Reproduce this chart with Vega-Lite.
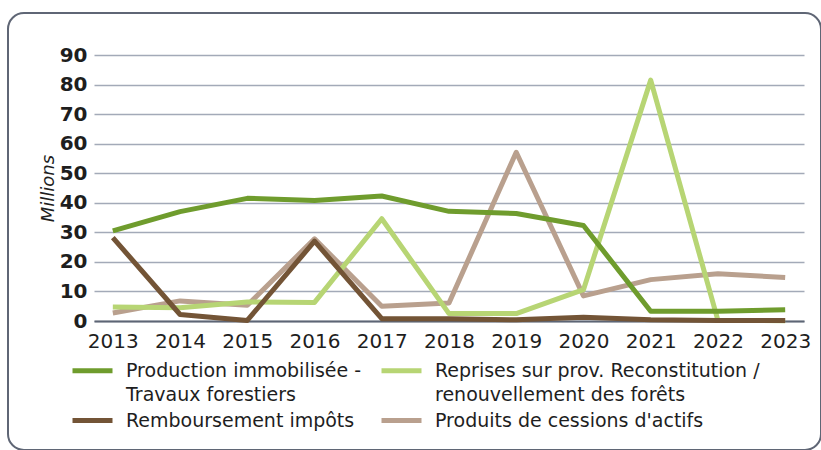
{
  "$schema": "https://vega.github.io/schema/vega-lite/v6.json",
  "width": 813,
  "height": 437,
  "autosize": {"type": "none"},
  "padding": {"left": 8, "top": 13, "right": 0, "bottom": 0},
  "background": "white",
  "config": {
    "font": "DejaVu Sans",
    "view": {"stroke": "#5f6675", "strokeWidth": 2, "cornerRadius": 16, "fill": "white"},
    "style": {"guide-label": {"lineHeight": 24}}
  },
  "data": {
    "values": [
      {"year": "2013", "series": "Produits de cessions d'actifs", "value": 2.7},
      {"year": "2014", "series": "Produits de cessions d'actifs", "value": 6.8},
      {"year": "2015", "series": "Produits de cessions d'actifs", "value": 5.3},
      {"year": "2016", "series": "Produits de cessions d'actifs", "value": 27.8},
      {"year": "2017", "series": "Produits de cessions d'actifs", "value": 5.0},
      {"year": "2018", "series": "Produits de cessions d'actifs", "value": 6.1},
      {"year": "2019", "series": "Produits de cessions d'actifs", "value": 57.1},
      {"year": "2020", "series": "Produits de cessions d'actifs", "value": 8.5},
      {"year": "2021", "series": "Produits de cessions d'actifs", "value": 14.0},
      {"year": "2022", "series": "Produits de cessions d'actifs", "value": 16.0},
      {"year": "2023", "series": "Produits de cessions d'actifs", "value": 14.7},
      {"year": "2013", "series": "Reprises sur prov. Reconstitution / renouvellement des forêts", "value": 4.7},
      {"year": "2014", "series": "Reprises sur prov. Reconstitution / renouvellement des forêts", "value": 4.5},
      {"year": "2015", "series": "Reprises sur prov. Reconstitution / renouvellement des forêts", "value": 6.4},
      {"year": "2016", "series": "Reprises sur prov. Reconstitution / renouvellement des forêts", "value": 6.3},
      {"year": "2017", "series": "Reprises sur prov. Reconstitution / renouvellement des forêts", "value": 34.6},
      {"year": "2018", "series": "Reprises sur prov. Reconstitution / renouvellement des forêts", "value": 2.5},
      {"year": "2019", "series": "Reprises sur prov. Reconstitution / renouvellement des forêts", "value": 2.5},
      {"year": "2020", "series": "Reprises sur prov. Reconstitution / renouvellement des forêts", "value": 10.6},
      {"year": "2021", "series": "Reprises sur prov. Reconstitution / renouvellement des forêts", "value": 81.5},
      {"year": "2022", "series": "Reprises sur prov. Reconstitution / renouvellement des forêts", "value": 0.2},
      {"year": "2023", "series": "Reprises sur prov. Reconstitution / renouvellement des forêts", "value": 0.1},
      {"year": "2013", "series": "Remboursement impôts", "value": 28.2},
      {"year": "2014", "series": "Remboursement impôts", "value": 2.2},
      {"year": "2015", "series": "Remboursement impôts", "value": 0.2},
      {"year": "2016", "series": "Remboursement impôts", "value": 27.0},
      {"year": "2017", "series": "Remboursement impôts", "value": 0.8},
      {"year": "2018", "series": "Remboursement impôts", "value": 0.8},
      {"year": "2019", "series": "Remboursement impôts", "value": 0.4},
      {"year": "2020", "series": "Remboursement impôts", "value": 1.3},
      {"year": "2021", "series": "Remboursement impôts", "value": 0.4},
      {"year": "2022", "series": "Remboursement impôts", "value": 0.2},
      {"year": "2023", "series": "Remboursement impôts", "value": 0.2},
      {"year": "2013", "series": "Production immobilisée - Travaux forestiers", "value": 30.5},
      {"year": "2014", "series": "Production immobilisée - Travaux forestiers", "value": 37.0},
      {"year": "2015", "series": "Production immobilisée - Travaux forestiers", "value": 41.5},
      {"year": "2016", "series": "Production immobilisée - Travaux forestiers", "value": 40.8},
      {"year": "2017", "series": "Production immobilisée - Travaux forestiers", "value": 42.3},
      {"year": "2018", "series": "Production immobilisée - Travaux forestiers", "value": 37.1},
      {"year": "2019", "series": "Production immobilisée - Travaux forestiers", "value": 36.4},
      {"year": "2020", "series": "Production immobilisée - Travaux forestiers", "value": 32.3},
      {"year": "2021", "series": "Production immobilisée - Travaux forestiers", "value": 3.3},
      {"year": "2022", "series": "Production immobilisée - Travaux forestiers", "value": 3.3},
      {"year": "2023", "series": "Production immobilisée - Travaux forestiers", "value": 3.8}
    ]
  },
  "mark": {"type": "line", "strokeWidth": 5, "strokeJoin": "round"},
  "encoding": {
    "x": {
      "field": "year",
      "type": "ordinal",
      "scale": {"type": "point", "range": [86, 796], "padding": 0.28},
      "axis": {
        "title": null,
        "offset": -129,
        "labelAngle": 0,
        "labelFontSize": 20,
        "labelColor": "#1e1e1e",
        "labelPadding": 10,
        "ticks": false,
        "domainColor": "#5d6575",
        "domainWidth": 2,
        "grid": false
      }
    },
    "y": {
      "field": "value",
      "type": "quantitative",
      "scale": {"domain": [0, 90], "range": [308, 42], "nice": false},
      "axis": {
        "title": "Millions",
        "titleFontStyle": "italic",
        "titleFontWeight": "normal",
        "titleFontSize": 18,
        "titleColor": "#1e1e1e",
        "titlePadding": 2,
        "offset": -86,
        "values": [0, 10, 20, 30, 40, 50, 60, 70, 80, 90],
        "labelFontSize": 20,
        "labelFontWeight": "bold",
        "labelColor": "#1e1e1e",
        "labelPadding": 7,
        "ticks": false,
        "domain": false,
        "grid": true,
        "gridColor": "#a3aab8",
        "gridWidth": 1.5
      }
    },
    "color": {
      "field": "series",
      "type": "nominal",
      "scale": {
        "domain": [
          "Production immobilisée - Travaux forestiers",
          "Reprises sur prov. Reconstitution / renouvellement des forêts",
          "Remboursement impôts",
          "Produits de cessions d'actifs"
        ],
        "range": ["#6f9c2d", "#b7d574", "#735436", "#b9a08e"]
      },
      "legend": {
        "title": null,
        "orient": "none",
        "legendX": 72,
        "legendY": 345,
        "columns": 2,
        "direction": "horizontal",
        "columnPadding": 9,
        "rowPadding": 3,
        "symbolType": "M-2,0L2,0",
        "symbolSize": 400,
        "symbolStrokeWidth": 5,
        "labelFontSize": 19,
        "labelColor": "#1e1e1e",
        "labelLimit": 400,
        "labelOffset": 21,
        "labelExpr": "datum.label == 'Production immobilisée - Travaux forestiers' ? ['Production immobilisée -', 'Travaux forestiers'] : datum.label == 'Reprises sur prov. Reconstitution / renouvellement des forêts' ? ['Reprises sur prov. Reconstitution /', 'renouvellement des forêts'] : datum.label"
      }
    }
  }
}
